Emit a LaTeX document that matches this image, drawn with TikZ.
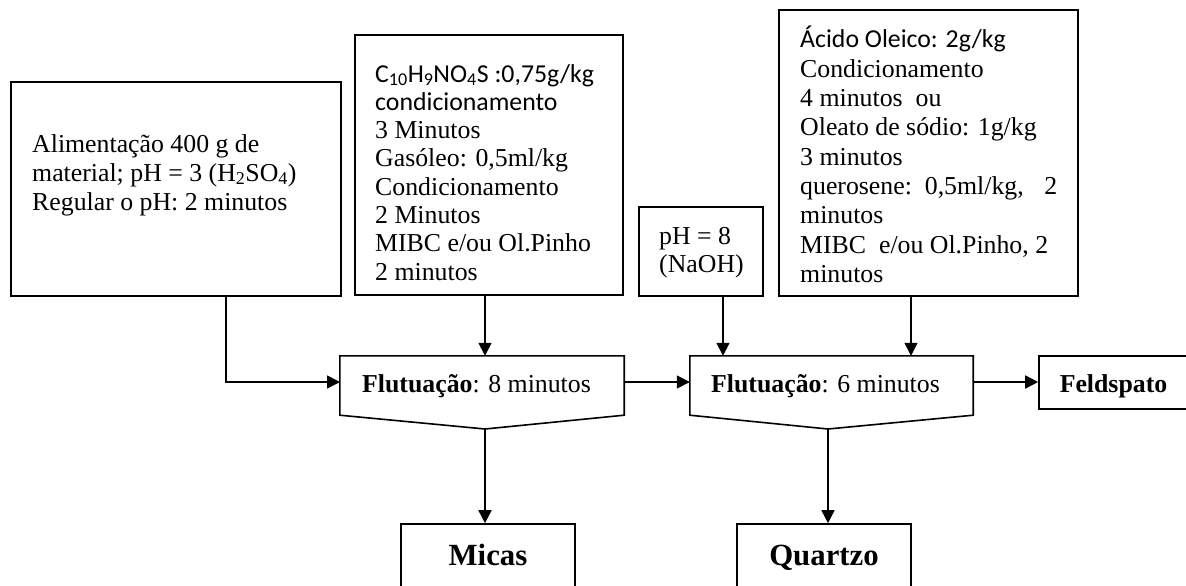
\documentclass[tikz,border=0pt]{standalone}
\usepackage{fontspec}
\setmainfont{Liberation Serif}
\newfontfamily\calfont{Carlito}
\usetikzlibrary{arrows.meta,calc}
\begin{document}
\begin{tikzpicture}[x=1pt,y=-1pt,
  ln/.style={line width=1.6pt},
  box/.style={draw, ln, inner sep=0pt},
  ghost/.style={inner sep=0pt},
  arr/.style={ln, -{Triangle[length=13pt,width=13pt]}},
  txt/.style={inner sep=0pt, anchor=base west, font=\fontsize{25.8}{29}\selectfont},
  lbl/.style={inner sep=0pt, anchor=base, font=\fontsize{25.8}{29}\selectfont\bfseries},
  big/.style={inner sep=0pt, anchor=base, font=\fontsize{30.8}{34}\selectfont\bfseries}]
\useasboundingbox (0,0) rectangle (1186,586);
\clip (0,0) rectangle (1186,586);

% input boxes
\node[box, minimum width=330pt, minimum height=214pt] (b1) at (176,189) {};
\node[box, minimum width=268pt, minimum height=260pt] (b2) at (489,165) {};
\node[box, minimum width=124pt, minimum height=89pt] (b3) at (701,251.5) {};
\node[box, minimum width=299pt, minimum height=286pt] (b4) at (928.5,153) {};

% box texts
\node[txt] (b1l1) at (32,152) {Alimentação 400 g de};
\node[txt] (b1l2) at (32,181) {material; pH = 3 (H\textsubscript{2}SO\textsubscript{4})};
\node[txt] (b1l3) at (32,210) {Regular o pH: 2 minutos};

\foreach \t [count=\i from 0] in {{\calfont C\textsubscript{10}H\textsubscript{9}NO\textsubscript{4}S :0,75g/kg},
  {\calfont condicionamento}, {3 Minutos}, {Gasóleo: 0,5ml/kg}, {Condicionamento},
  {2 Minutos}, {MIBC e/ou Ol.Pinho}, {2 minutos}}
  \node[txt] (b2l\i) at (375,{82+\i*28.3}) {\t};

\node[txt] (b3l1) at (659,244) {pH = 8};
\node[txt] (b3l2) at (659,272) {(NaOH)};

\foreach \t [count=\i from 0] in {{\calfont Ácido Oleico: 2g/kg}, {Condicionamento},
  {4 minutos\ \ ou}, {Oleato de sódio: 1g/kg}, {3 minutos},
  {\makebox[257pt][l]{querosene:\ \ 0,5ml/kg,\hfill 2}}, {minutos},
  {MIBC\ \ e/ou Ol.Pinho, 2}, {minutos}}
  \node[txt] (b4l\i) at (800,{48+\i*29.3}) {\t};

% flotation stages
\node[ghost, minimum width=284pt, minimum height=59pt] (f1) at (482,385.5) {};
\coordinate (f1tip) at (485,429);
\draw[ln] (f1.north west) -- (f1.north east) -- (f1.south east) -- (f1tip) -- (f1.south west) -- cycle;
\node[txt] (f1t) at (362,392) {\textbf{Flutuação}: 8 minutos};

\node[ghost, minimum width=283pt, minimum height=59pt] (f2) at (831.5,385.5) {};
\coordinate (f2tip) at (828,429);
\draw[ln] (f2.north west) -- (f2.north east) -- (f2.south east) -- (f2tip) -- (f2.south west) -- cycle;
\node[txt] (f2t) at (711,392) {\textbf{Flutuação}: 6 minutos};

% products
\node[box, minimum width=151pt, minimum height=53pt] (fs) at (1114.5,382.5) {};
\node[lbl] (fst) at (1113.5,392) {Feldspato};
\node[box, minimum width=174pt, minimum height=80pt] (mi) at (488,564) {};
\node[big] (mit) at (488,565) {Micas};
\node[box, minimum width=174pt, minimum height=80pt] (qu) at (824,564) {};
\node[big] (qut) at (824,565) {Quartzo};

% connectors
\coordinate (in1) at (340,382);
\draw[arr] ($(b1.south west)!0.65!(b1.south east)$) |- (in1);
\draw[arr] (b2.south -| f1tip) -- (f1.north -| f1tip);
\draw[arr] (f1.east |- in1) -- (f2.west |- in1);
\draw[arr] ([xshift=22pt]b3.south) -- ([xshift=22pt]b3.south |- f2.north);
\draw[arr] ([xshift=-17.5pt]b4.south) -- ([xshift=-17.5pt]b4.south |- f2.north);
\draw[arr] (f2.east |- in1) -- (fs.west |- in1);
\draw[arr] (f1tip) -- (f1tip |- mi.north);
\draw[arr] (f2tip) -- (f2tip |- qu.north);
\end{tikzpicture}
\end{document}
